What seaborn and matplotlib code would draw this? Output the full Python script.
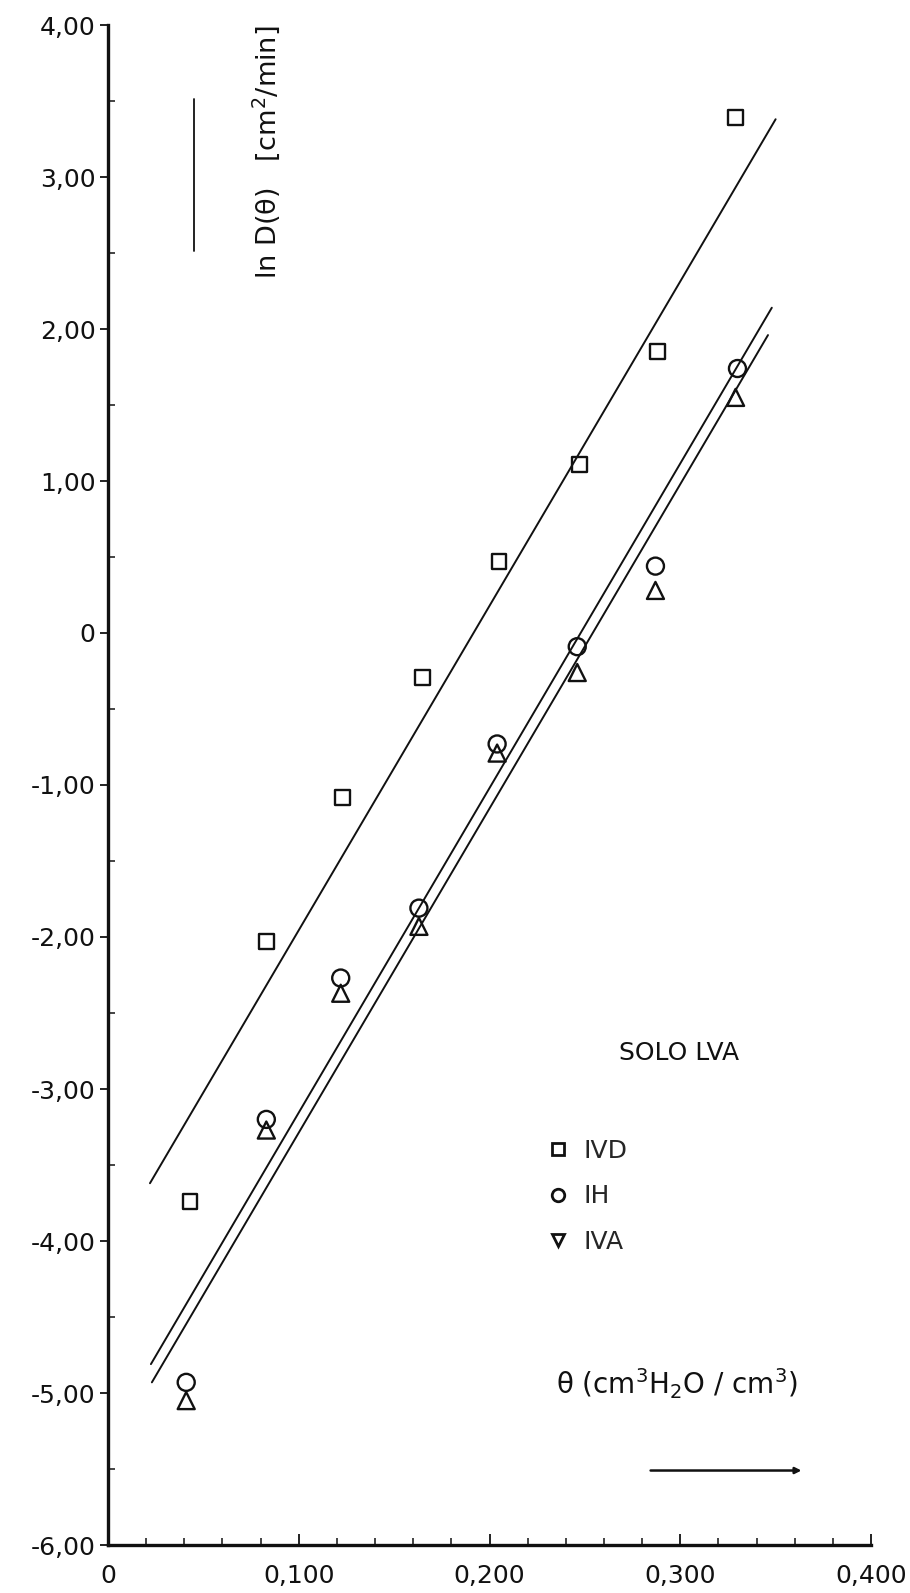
import matplotlib
matplotlib.use("Agg")
import matplotlib.pyplot as plt
from matplotlib.lines import Line2D
from matplotlib.ticker import MultipleLocator
import numpy as np
import pandas as pd
import seaborn as sns

# Measured points: water content (cm3/cm3) and ln D(theta)
theta_ivd = [0.043, 0.083, 0.123, 0.165, 0.205, 0.247, 0.288, 0.329]
lnd_ivd = [-3.74, -2.03, -1.08, -0.29, 0.47, 1.11, 1.85, 3.39]

theta_ih = [0.041, 0.083, 0.122, 0.163, 0.204, 0.246, 0.287, 0.330]
lnd_ih = [-4.93, -3.20, -2.27, -1.81, -0.73, -0.09, 0.44, 1.74]

theta_iva = [0.041, 0.083, 0.122, 0.163, 0.204, 0.246, 0.287, 0.329]
lnd_iva = [-5.05, -3.27, -2.37, -1.93, -0.79, -0.26, 0.28, 1.55]

# Fitted straight lines (end points)
fit_theta_ivd = [0.022, 0.350]
fit_lnd_ivd = [-3.62, 3.38]
fit_theta_ih = [0.0225, 0.348]
fit_lnd_ih = [-4.81, 2.14]
fit_theta_iva = [0.023, 0.346]
fit_lnd_iva = [-4.93, 1.96]

series_names = ["IVD", "IH", "IVA"]

x_ticks = [0.0, 0.1, 0.2, 0.3, 0.4]
x_tick_labels = ["0", "0,100", "0,200", "0,300", "0,400"]
y_ticks = [4, 3, 2, 1, 0, -1, -2, -3, -4, -5, -6]
y_tick_labels = ["4,00", "3,00", "2,00", "1,00", "0", "-1,00", "-2,00",
                 "-3,00", "-4,00", "-5,00", "-6,00"]

sns.set_theme(style="ticks")
plt.rcParams["font.family"] = ["DejaVu Sans"]
plt.rcParams["mathtext.fontset"] = "dejavusans"

INK = "#111111"
FS = 18

fig = plt.figure(figsize=(9.10, 15.93), dpi=100)
fig.patch.set_facecolor("white")
ax = fig.add_axes([108 / 910, 48 / 1593, 763 / 910, 1520 / 1593])
ax.set_facecolor("white")

points = pd.concat([
    pd.DataFrame({"theta": theta_ivd, "lnd": lnd_ivd, "solo": "IVD"}),
    pd.DataFrame({"theta": theta_ih, "lnd": lnd_ih, "solo": "IH"}),
    pd.DataFrame({"theta": theta_iva, "lnd": lnd_iva, "solo": "IVA"}),
])
fits = pd.concat([
    pd.DataFrame({"theta": fit_theta_ivd, "lnd": fit_lnd_ivd, "solo": "IVD"}),
    pd.DataFrame({"theta": fit_theta_ih, "lnd": fit_lnd_ih, "solo": "IH"}),
    pd.DataFrame({"theta": fit_theta_iva, "lnd": fit_lnd_iva, "solo": "IVA"}),
])

# Regression lines
for name in series_names:
    sub = fits[fits["solo"] == name]
    sns.lineplot(data=sub, x="theta", y="lnd", ax=ax, color=INK, lw=1.4,
                 legend=False, sort=False, estimator=None)

# Hollow markers
marker_of = {"IVD": "s", "IH": "o", "IVA": "^"}
size_of = {"IVD": 115, "IH": 150, "IVA": 150}
for name in ["IVA", "IH", "IVD"]:
    sub = points[points["solo"] == name]
    sns.scatterplot(data=sub, x="theta", y="lnd", ax=ax, marker=marker_of[name],
                    s=size_of[name], facecolor="none", edgecolor=INK,
                    linewidth=1.7, legend=False, zorder=3)

ax.set_xlim(0, 0.4)
ax.set_ylim(-6, 4)
ax.set_xticks(x_ticks, x_tick_labels, fontsize=FS)
ax.set_yticks(y_ticks, y_tick_labels, fontsize=FS)
ax.xaxis.set_minor_locator(MultipleLocator(0.02))
ax.yaxis.set_minor_locator(MultipleLocator(0.5))
ax.tick_params(axis="x", which="major", direction="in", length=8, width=1.3,
               colors=INK, pad=14)
ax.tick_params(axis="x", which="minor", direction="in", length=5, width=1.1,
               colors=INK)
ax.tick_params(axis="y", which="major", direction="out", length=6, width=1.3,
               colors=INK, pad=3)
ax.tick_params(axis="y", which="minor", direction="in", length=5, width=1.1,
               colors=INK)
ax.set_xlabel("")
ax.set_ylabel("")

for side in ["top", "right"]:
    ax.spines[side].set_visible(False)
for side in ["left", "bottom"]:
    ax.spines[side].set_linewidth(2.4)
    ax.spines[side].set_color(INK)

# Y-axis title with direction bar
ax.text(0.083, 4.0, "ln D(θ)   [cm$^2$/min]", rotation=90, ha="center",
        va="top", fontsize=19.5, color=INK)
ax.plot([0.045, 0.045], [2.51, 3.51], color=INK, lw=1.3)

# X-axis title with direction arrow
ax.text(0.235, -4.94, "θ (cm$^3$H$_2$O / cm$^3$)", ha="left", va="center",
        fontsize=20, color=INK)
ax.annotate("", xy=(0.365, -5.51), xytext=(0.283, -5.51),
            arrowprops=dict(arrowstyle="-|>", color=INK, lw=1.8,
                            mutation_scale=9))

ax.text(0.268, -2.76, "SOLO LVA", ha="left", va="center", fontsize=18,
        color=INK)

legend_markers = {"IVD": "s", "IH": "o", "IVA": "v"}
handles = [Line2D([], [], ls="none", marker=legend_markers[n], ms=9,
                  mfc="none", mec=INK, mew=2.0) for n in series_names]
ax.legend(handles, series_names, loc="upper left",
          bbox_to_anchor=(0.577, 0.267), frameon=False, fontsize=FS,
          borderpad=0, borderaxespad=0, handlelength=0.8,
          handletextpad=0.6, labelspacing=0.85)

fig.savefig("out.png", dpi=100, facecolor="white")
